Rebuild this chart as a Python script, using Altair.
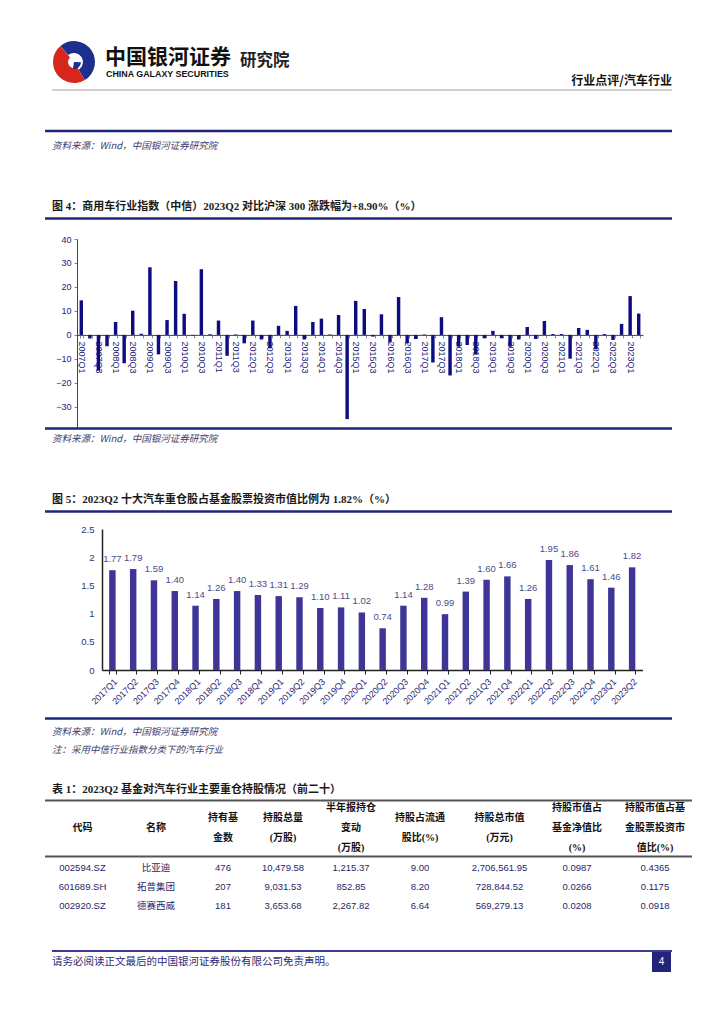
import altair as alt
import pandas as pd

OX, OY = 8, 8          # page margin
W, H = 700, 1000       # canvas (page coordinates minus margin)

# ---------------- data ----------------
quarters4 = [f"{y}Q{q}" for y in range(2007, 2024) for q in range(1, 5)][:66]
values4 = [
    14.4, -1.5, -14.9, -4.7,
    5.4, -11.8, 10.1, 0.5,
    28.2, -8.1, 6.2, 22.5,
    8.8, -0.2, 27.4, 0.3,
    6.0, -8.7, 0.2, -3.5,
    6.0, -1.9, -5.6, 3.8,
    1.7, 12.1, -1.9, 5.4,
    6.8, 0.2, 8.3, -35.1,
    14.2, 10.8, -0.7, 8.6,
    -3.1, 15.8, -3.5, -1.7,
    0.2, -11.5, 7.4, -16.9,
    -4.9, -4.2, -8.0, -1.4,
    1.7, -1.4, -4.9, -1.9,
    3.3, -1.7, 5.8, 0.4,
    0.4, -9.9, 2.9, 2.1,
    -6.0, 0.4, -2.1, 4.6,
    16.2, 8.9,
]
y4_ticks = [-30, -20, -10, 0, 10, 20, 30, 40]

quarters5 = [f"{y}Q{q}" for y in range(2017, 2024) for q in range(1, 5)][:26]
values5 = [1.77, 1.79, 1.59, 1.40, 1.14, 1.26, 1.40, 1.33, 1.31, 1.29,
           1.10, 1.11, 1.02, 0.74, 1.14, 1.28, 0.99, 1.39, 1.60, 1.66,
           1.26, 1.95, 1.86, 1.61, 1.46, 1.82]
y5_ticks = [0, 0.5, 1, 1.5, 2, 2.5]

tbl_header = [
    ["代码"], ["名称"], ["持有基", "金数"], ["持股总量", "(万股)"],
    ["半年报持仓", "变动", "(万股)"], ["持股占流通", "股比(%)"],
    ["持股总市值", "(万元)"], ["持股市值占", "基金净值比", "(%)"],
    ["持股市值占基", "金股票投资市", "值比(%)"],
]
codes = ["002594.SZ", "601689.SH", "002920.SZ"]
names = ["比亚迪", "拓普集团", "德赛西威"]
funds = ["476", "207", "181"]
shares = ["10,479.58", "9,031.53", "3,653.68"]
changes = ["1,215.37", "852.85", "2,267.82"]
float_pct = ["9.00", "8.20", "6.64"]
mkt_value = ["2,706,561.95", "728,844.52", "569,279.13"]
nav_pct = ["0.0987", "0.0266", "0.0208"]
stock_pct = ["0.4365", "0.1175", "0.0918"]

title4 = "图 4：商用车行业指数（中信）2023Q2 对比沪深 300 涨跌幅为+8.90%（%）"
title5 = "图 5：2023Q2 十大汽车重仓股占基金股票投资市值比例为 1.82%（%）"
title_t1 = "表 1：2023Q2 基金对汽车行业主要重仓持股情况（前二十）"
source = "资料来源：Wind，中国银河证券研究院"
note = "注：采用中信行业指数分类下的汽车行业"
footer = "请务必阅读正文最后的中国银河证券股份有限公司免责声明。"

NAVY = "#1f237a"
CJK = "Noto Sans CJK SC"
SERIF = "Liberation Serif, Noto Sans CJK SC"
SANS = "Liberation Sans, Noto Sans CJK SC"

PX = alt.X("x:Q", scale=None, axis=None)
PY = alt.Y("y:Q", scale=None, axis=None)


def page(df):
    df = df.copy()
    for c in ["x", "x2"]:
        if c in df:
            df[c] = df[c] - OX
    for c in ["y", "y2"]:
        if c in df:
            df[c] = df[c] - OY
    return df


def text_layer(rows, font, weight="normal", style="normal", align="left"):
    df = page(pd.DataFrame(rows, columns=["t", "x", "y", "s", "c"]))
    return alt.Chart(df).mark_text(
        font=font, fontWeight=weight, fontStyle=style, align=align, baseline="middle"
    ).encode(
        x=PX, y=PY,
        text="t:N", size=alt.Size("s:Q", scale=None, legend=None),
        color=alt.Color("c:N", scale=None, legend=None),
    )


# ---------------- page furniture ----------------
rules = page(pd.DataFrame([
    dict(x=52, x2=672, y=90, w=1.0, c="#a0a0a0"),
    dict(x=45, x2=672, y=131, w=2.5, c=NAVY),
    dict(x=45, x2=672, y=218.5, w=2.5, c=NAVY),
    dict(x=45, x2=672, y=428.5, w=2.5, c=NAVY),
    dict(x=45, x2=672, y=511.5, w=2.5, c=NAVY),
    dict(x=45, x2=672, y=718.5, w=2.5, c=NAVY),
    dict(x=45, x2=692, y=800.5, w=2.0, c="#555555"),
    dict(x=45, x2=692, y=856.5, w=2.0, c="#555555"),
    dict(x=52, x2=672, y=951, w=2.0, c="#3f3a8f"),
]))
rule_layer = alt.Chart(rules).mark_rule().encode(
    x=PX, x2="x2:Q", y=PY,
    color=alt.Color("c:N", scale=None, legend=None),
    strokeWidth=alt.StrokeWidth("w:Q", scale=None, legend=None),
)

box = page(pd.DataFrame([dict(x=652, x2=671, y=952, y2=972)]))
box_layer = alt.Chart(box).mark_rect(color="#23237a").encode(
    x=PX, x2="x2:Q", y=PY, y2="y2:Q",
)

logo = pd.DataFrame([
    dict(t1=-0.7, t2=2.6, r1=9, r2=21, c="#1d2f8c"),
    dict(t1=2.6, t2=5.58, r1=6, r2=21, c="#d7261e"),
    dict(t1=1.6, t2=3.3, r1=0, r2=7, c="#1d2f8c"),
])
logo_layer = alt.Chart(logo).mark_arc().encode(
    x=alt.value(74 - OX), y=alt.value(62 - OY),
    theta=alt.Theta("t1:Q", scale=None, stack=None), theta2="t2:Q",
    radius=alt.Radius("r2:Q", scale=None), radius2="r1:Q",
    color=alt.Color("c:N", scale=None, legend=None),
)

header_bold = text_layer([
    ["中国银河证券", 105, 58, 21, "#111111"],
    ["CHINA GALAXY SECURITIES", 106, 74, 8.9, "#111111"],
    ["研究院", 240, 61, 16.5, "#222222"],
], SANS, weight="bold")
header_right = text_layer([["行业点评/汽车行业", 672, 81, 12, "#111111"]], CJK, weight="bold", align="right")

titles = text_layer([
    [title4, 52, 207, 11, "#1a1a1a"],
    [title5, 52, 499.5, 11, "#1a1a1a"],
    [title_t1, 52, 790, 11, "#1a1a1a"],
], SERIF, weight="bold")

notes = text_layer([
    [source, 52, 146, 9.5, "#3a3a6e"],
    [source, 52, 438.5, 9.5, "#3a3a6e"],
    [source, 52, 732, 9.5, "#3a3a6e"],
    [note, 52, 750, 9.5, "#3a3a6e"],
], CJK, style="italic")

footer_layer = text_layer([[footer, 52, 962, 10.5, "#2b2b7a"]], CJK)
pagenum = text_layer([["4", 661.5, 962, 10, "#ffffff"]], SANS, align="center")

# ---------------- table ----------------
col_x = [82.5, 156, 223, 283, 351, 420, 499.5, 577, 655]
hdr_rows = []
for cx, lines in zip(col_x, tbl_header):
    n = len(lines)
    y0 = 828 - (n - 1) * 10
    for i, ln in enumerate(lines):
        hdr_rows.append([ln, cx, y0 + i * 20, 10, "#111111"])
table_header = text_layer(hdr_rows, SERIF, weight="bold", align="center")

row_y = [867.5, 886.5, 905.5]
cells = []
cols = [codes, names, funds, shares, changes, float_pct, mkt_value, nav_pct, stock_pct]
for cx, col in zip(col_x, cols):
    for ry, val in zip(row_y, col):
        cells.append([val, cx, ry, 9.5, "#1f1f6b"])
table_body = text_layer(cells, SANS, align="center")

# ---------------- chart 4 ----------------
df4 = pd.DataFrame({"q": quarters4, "v": values4})
zero4 = 334.9
label_q13 = ("isValid(datum.value) && (indexof(datum.value,'Q1')>=0 || "
             "indexof(datum.value,'Q3')>=0) ? datum.value : ''")
chart4 = alt.Chart(df4).mark_bar(color="#0d0d80").encode(
    x=alt.X("q:N", sort=None,
            scale=alt.Scale(range=[77 - OX, 643 - OX], paddingInner=0.6, paddingOuter=0.3),
            axis=alt.Axis(orient="bottom", offset=(zero4 - OY) - H, title=None,
                          labelAngle=90, labelOverlap=False, tickBand="extent",
                          labelExpr=label_q13,
                          domainColor="#444444", tickColor="#888888", tickSize=3,
                          labelFont="Liberation Sans", labelFontSize=9, labelColor="#1a1a80",
                          labelPadding=3)),
    y=alt.Y("v:Q",
            scale=alt.Scale(domain=[-38.6, 40], range=[427.5 - OY, 239 - OY], nice=False, zero=False),
            axis=alt.Axis(orient="left", offset=-(77 - OX), values=y4_ticks, grid=False, title=None,
                          domainColor="#444444", tickColor="#888888", tickSize=3,
                          labelFont="Liberation Sans", labelFontSize=9, labelColor="#1a1a80",
                          labelPadding=3)),
)

# ---------------- chart 5 ----------------
df5 = pd.DataFrame({"q": quarters5, "v": values5})
x5 = alt.X("q:N", sort=None,
           scale=alt.Scale(range=[102 - OX, 642.5 - OX], paddingInner=0.69, paddingOuter=0.345),
           axis=alt.Axis(orient="bottom", offset=(670 - OY) - H, title=None,
                         labelAngle=-45, labelOverlap=False, tickBand="extent",
                         domainColor="#222222", domainWidth=1.5, tickColor="#222222", tickSize=4,
                         labelFont="Liberation Sans", labelFontSize=9, labelColor="#2a2a7a",
                         labelPadding=3))
y5 = alt.Y("v:Q",
           scale=alt.Scale(domain=[0, 2.5], range=[670 - OY, 529 - OY], nice=False),
           axis=alt.Axis(orient="left", offset=-(102 - OX), values=y5_ticks, grid=False, title=None,
                         format="~g",
                         domainColor="#222222", domainWidth=1.5, ticks=False,
                         labelFont="Liberation Sans", labelFontSize=9.5, labelColor="#333366",
                         labelPadding=8))
bars5 = alt.Chart(df5).mark_bar(color="#3f3598").encode(x=x5, y=y5)
labels5 = alt.Chart(df5).mark_text(
    baseline="bottom", dy=-6, font="Liberation Sans", fontSize=9.5, color="#4b4b8c"
).encode(x=x5, y=y5, text=alt.Text("v:Q", format=".2f"))
chart5 = alt.layer(bars5, labels5)

# ---------------- compose ----------------
chart = alt.layer(
    rule_layer, box_layer, logo_layer, header_bold, header_right, titles, notes,
    footer_layer, pagenum, table_header, table_body, chart4, chart5,
).resolve_scale(x="independent", y="independent").resolve_axis(
    x="independent", y="independent"
).properties(
    width=W, height=H, padding=0, background="white",
    autosize=alt.AutoSizeParams(type="none"),
).configure_view(stroke=None)

chart.save("out.html", embed_options={"renderer": "svg", "actions": False})
